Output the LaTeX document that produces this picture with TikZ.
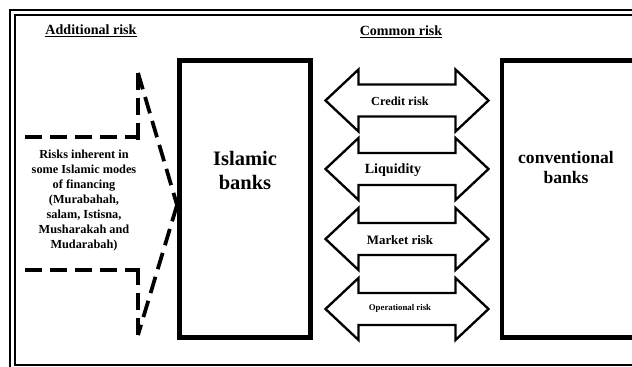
\documentclass[tikz,border=0pt]{standalone}
\usepackage{fontspec}
\setmainfont{Liberation Serif}
\usetikzlibrary{positioning}
\usetikzlibrary{calc}

\tikzset{
	bankbox/.style={draw,line width=4.2pt,inner sep=0pt,minimum height=83.1mm},
	banktext/.style={align=center,inner sep=0pt},
	riskarrow/.style={draw,line width=2pt,line join=miter},
	risklabel/.style={inner sep=0pt},
	headtext/.style={font=\bfseries\fontsize{12}{14}\selectfont,inner sep=0pt},
	addarrow/.style={line width=3.2pt,dash pattern=on 5.1mm off 2.4mm}
}
% double arrow round a centre coordinate
\newcommand{\riskshape}[1]{\draw[riskarrow] ($(#1)+(-82,0)$) -- ++(33,-31) -- ++(0,15) -- ++(97,0) -- ++(0,-15) -- ++(33,31) -- ++(-33,31) -- ++(0,-15) -- ++(-97,0) -- ++(0,15) -- cycle;}

\begin{document}
\begin{tikzpicture}[x=0.3mm,y=-0.3mm,font=\bfseries]
	\useasboundingbox (0,0) rectangle (632,367);
	\clip (0,0) rectangle (632,367);
	% frame
	\draw[line width=1.6pt] (10,10) rectangle (660,390);
	\draw[line width=1.4pt] (15,15) rectangle (655,365);
	% headings
	\node[headtext] (addhead) at (91,31) {\underline{Additional risk}};
	\node[headtext] (comhead) at (401,32) {\underline{Common risk}};
	% banks
	\node[bankbox,minimum width=39.3mm] (islamic) at (245,199) {};
	\node[banktext,font=\bfseries\fontsize{17.5}{20.5}\selectfont] (islamictxt) at (245,170) {Islamic\\banks};
	\node[bankbox,minimum width=39.6mm] (conv) at (568,199) {};
	\node[banktext,font=\bfseries\fontsize{15}{17.5}\selectfont] (convtxt) at (566,167.5) {conventional\\banks};
	% additional risk
	\node[banktext,font=\bfseries\fontsize{10.5}{12.75}\selectfont] (modes) at (84,200.5) {Risks inherent in\\some Islamic modes\\of financing\\(Murabahah,\\salam, Istisna,\\Musharakah and\\Mudarabah)};
	\coordinate (tip) at (islamic.west |- 0,205);
	\draw[addarrow] (25,137) -- (138,137);
	\draw[addarrow] (138,73) -- (138,140);
	\draw[addarrow] (138,73) -- (tip);
	\draw[addarrow] (tip) -- (138,335);
	\draw[addarrow] (138,268) -- (138,335);
	\draw[addarrow] (25,270) -- (138,270);
	% common risks
	\coordinate (a1) at (407.5,100.5);
	\coordinate (a2) at (407.5,169);
	\coordinate (a3) at (407.5,239);
	\coordinate (a4) at (407.5,309);
	\riskshape{a1}
	\riskshape{a2}
	\riskshape{a3}
	\riskshape{a4}
	\node[risklabel,font=\bfseries\fontsize{10.5}{12}\selectfont] (credit) at (400,101) {Credit risk};
	\node[risklabel,font=\bfseries\fontsize{12}{14}\selectfont] (liquid) at (393,170) {Liquidity};
	\node[risklabel,font=\bfseries\fontsize{11}{13}\selectfont] (market) at (400,240) {Market risk};
	\node[risklabel,font=\bfseries\fontsize{7.5}{9}\selectfont] (operat) at (400,308) {Operational risk};
\end{tikzpicture}
\end{document}
